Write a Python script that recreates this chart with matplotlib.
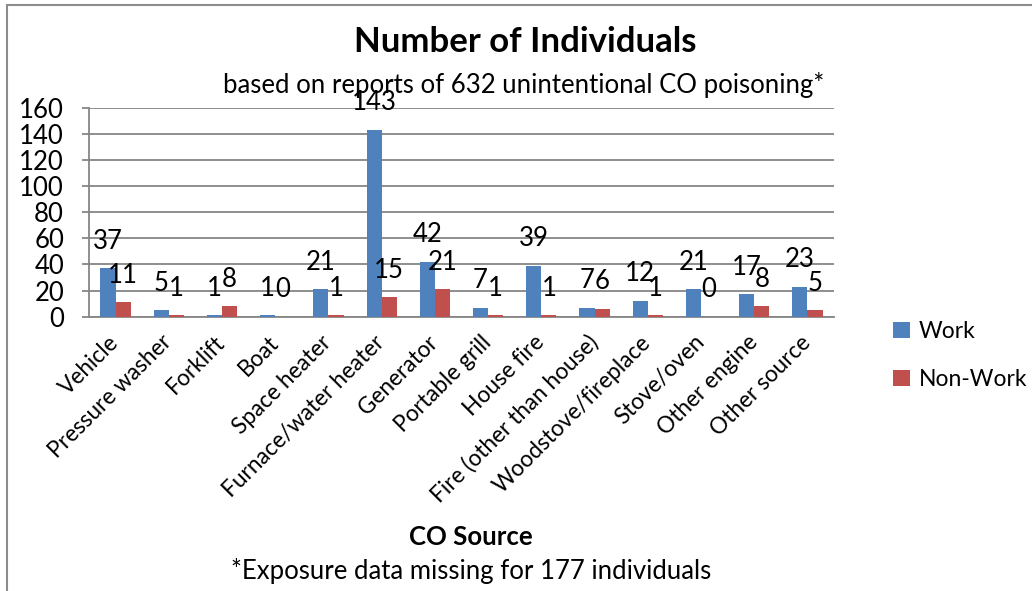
import matplotlib
matplotlib.use('Agg')

from matplotlib import pyplot as plt
from matplotlib.patches import Rectangle
import numpy as np

# Data
categories = [
    "Vehicle", "Pressure washer", "Forklift", "Boat", "Space heater",
    "Furnace/water heater", "Generator", "Portable grill", "House fire",
    "Fire (other than house)", "Woodstove/fireplace", "Stove/oven",
    "Other engine", "Other source",
]
work = [37, 5, 1, 1, 21, 143, 42, 7, 39, 7, 12, 21, 17, 23]
non_work = [11, 1, 8, 0, 1, 15, 21, 1, 1, 6, 1, 0, 8, 5]
y_ticks = [0, 20, 40, 60, 80, 100, 120, 140, 160]

BLUE = "#4F81BD"
RED = "#C0504D"
GRID = "#868686"
FONT = ["Lato", "DejaVu Sans"]
FS = 18.5

plt.rcParams['font.family'] = FONT

W, H = 1032, 591
fig = plt.figure(figsize=(W / 100, H / 100), dpi=100)
fig.patch.set_facecolor("white")

# chart frame (cut off at the right and bottom in the reference)
fig.patches.append(Rectangle((7 / W, -0.05), 1.2, 1 - 5 / H + 0.05,
                             transform=fig.transFigure, fill=False,
                             edgecolor="#8c8c8c", linewidth=1.5))

ax = fig.add_axes([89 / W, 1 - 316.7 / H, (834 - 89) / W, (316.7 - 107.7) / H])

x = np.arange(len(categories))
bw = 0.285
b1 = ax.bar(x - bw / 2, work, bw, color=BLUE, label="Work", zorder=3)
b2 = ax.bar(x + bw / 2, non_work, bw, color=RED, label="Non-Work", zorder=3)

for bars, vals in ((b1, work), (b2, non_work)):
    for rect, v in zip(bars, vals):
        ax.annotate(str(v), (rect.get_x() + rect.get_width() / 2, v),
                    xytext=(0, 19.5), textcoords="offset points",
                    ha="center", va="center", fontsize=FS, zorder=4)

ax.set_xlim(-0.5, len(categories) - 0.5)
ax.set_ylim(0, 160)
ax.set_yticks(y_ticks)
ax.yaxis.grid(True, color=GRID, linewidth=1.3, zorder=0)
ax.set_axisbelow(True)
for side in ("top", "right"):
    ax.spines[side].set_visible(False)
for side in ("left", "bottom"):
    ax.spines[side].set_color(GRID)
    ax.spines[side].set_linewidth(1.3)
ax.tick_params(axis="y", length=5, color=GRID, width=1.3, pad=13, labelsize=FS)
ax.tick_params(axis="x", length=0, pad=16)
ax.set_xticks(x)
ax.set_xticklabels(categories, rotation=45, ha="right", va="center",
                   rotation_mode="anchor", fontsize=16.3)

fig.text(525 / W, 1 - 42 / H, "Number of Individuals", ha="center",
         va="center", fontsize=25, fontweight="bold")
fig.text(524 / W, 1 - 85 / H, "based on reports of 632 unintentional CO poisoning*",
         ha="center", va="center", fontsize=FS)
fig.text(471 / W, 1 - 537 / H, "CO Source", ha="center", va="center",
         fontsize=FS, fontweight="bold")
fig.text(471 / W, 1 - 571 / H, "*Exposure data missing for 177 individuals",
         ha="center", va="center", fontsize=FS)

ax.legend(loc="upper left", bbox_to_anchor=(882 / W, 1 - 310 / H),
          bbox_transform=fig.transFigure, frameon=False, fontsize=16.5,
          handlelength=0.7, handleheight=0.7, handletextpad=0.4,
          labelspacing=1.17, borderpad=0)

fig.savefig("out.png", dpi=100, facecolor="white")
